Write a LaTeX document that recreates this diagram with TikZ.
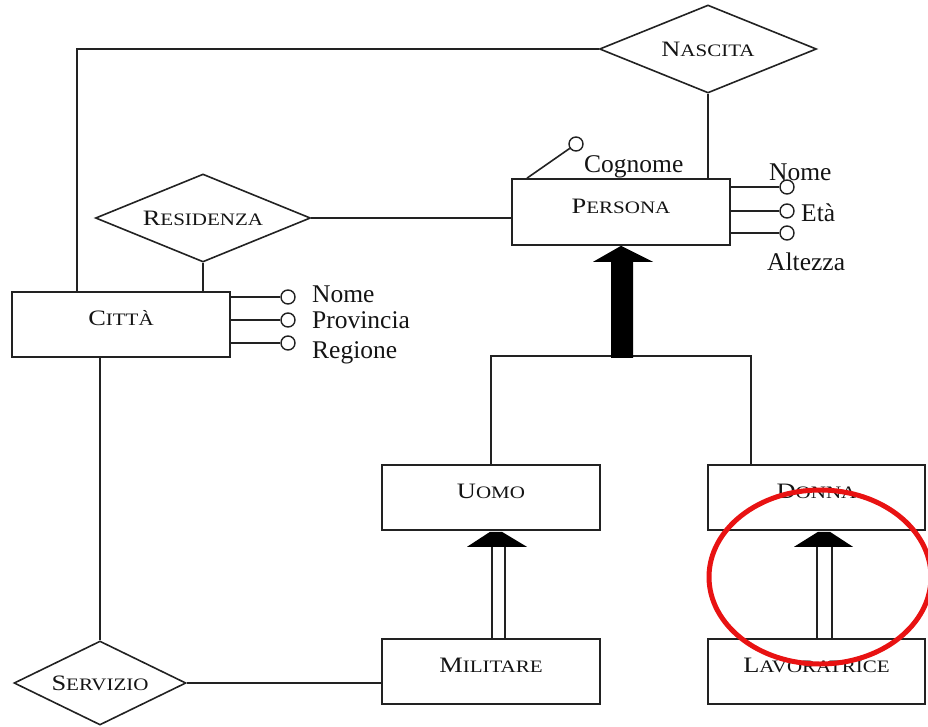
\documentclass[tikz,border=0pt]{standalone}
\usepackage{fontspec}
\setmainfont{Liberation Serif}
\newfontfamily\capsfont[FakeStretch=1.2]{Liberation Serif}
\usetikzlibrary{shapes.geometric}
% fake small capitals: large initial, smaller remaining capitals
\newcommand\fsc[2]{{\capsfont\fontsize{22}{24}\selectfont #1\fontsize{17.5}{20}\selectfont #2}}
\definecolor{ln}{HTML}{222222}
\definecolor{mark}{RGB}{232,18,18}
\begin{document}
\begin{tikzpicture}[x=1pt,y=-1pt,
  link/.style={draw=ln, line width=1.6pt},
  ent/.style={draw=ln, rectangle, line width=1.7pt, minimum width=218pt, minimum height=65pt,
    inner sep=0pt, text height=15pt, text depth=12.4pt, text=black!92},
  rel/.style={draw=ln, diamond, line width=1.6pt, inner sep=0pt},
  rlbl/.style={text height=15pt, text depth=0.4pt, inner sep=0pt, text=black!92},
  att/.style={draw=ln, circle, line width=1.4pt, minimum size=14pt, inner sep=0pt, fill=white},
  albl/.style={inner sep=0pt, font=\fontsize{25.5}{28}\selectfont, text=black!92}]
\useasboundingbox (0,0) rectangle (928,726);

% entities
\node[ent, minimum height=66pt] (persona) at (621,212) {\fsc{P}{ERSONA}};
\node[ent] (citta) at (121,324.5) {\fsc{C}{ITTÀ}};
\node[ent] (uomo) at (491,497.5) {\fsc{U}{OMO}};
\node[ent] (militare) at (491,671.5) {\fsc{M}{ILITARE}};
\node[ent, minimum width=217pt] (donna) at (816.5,497.5) {\fsc{D}{ONNA}};
\node[ent, minimum width=217pt] (lavoratrice) at (816.5,671.5) {\fsc{L}{AVORATRICE}};

% relationships
\node[rel, minimum width=217pt, minimum height=88pt,
  label={[rlbl]center:\fsc{N}{ASCITA}}] (nascita) at (708,49) {};
\node[rel, minimum width=215pt, minimum height=88pt,
  label={[rlbl]center:\fsc{R}{ESIDENZA}}] (residenza) at (203,218) {};
\node[rel, minimum width=172pt, minimum height=84pt,
  label={[rlbl]center:\fsc{S}{ERVIZIO}}] (servizio) at (100,683) {};

% relationship links
\draw[link] (nascita.west) -| ([xshift=-44pt]citta.north);
\draw[link] (nascita.south) -- (nascita.south |- persona.north);
\draw[link] (residenza.east) -- (residenza.east -| persona.west);
\draw[link] (residenza.south) -- (residenza.south |- citta.north);
\draw[link] (servizio.north) -- (servizio.north |- citta.south);
\draw[link] (servizio.east) -- (servizio.east -| militare.west);

% total generalization of PERSONA
\coordinate (hubL) at (491,356);
\coordinate (hubR) at (751,356);
\draw[link] (uomo.north) -- (hubL) -- (hubR) -- (hubR |- donna.north);
\fill[black] (persona.south) -- ++(32,16) -- ++(-20,0) -- ++(0,96) -- ++(-22,0) -- ++(0,-96) -- ++(-18,0) -- cycle;

% subset arrows
\draw[link] ([xshift=1pt]militare.north) -- ++(0,-93);
\draw[link] ([xshift=14pt]militare.north) -- ++(0,-93);
\fill[black] (uomo.south) ++(-24,16) -- ++(60,0) -- ++(-25,-15) -- ++(-12,0) -- cycle;
\draw[link] ([xshift=0.5pt]lavoratrice.north) -- ++(0,-93);
\draw[link] ([xshift=15.5pt]lavoratrice.north) -- ++(0,-93);
\fill[black] (donna.south) ++(-22.5,16) -- ++(59,0) -- ++(-23,-15) -- ++(-12,0) -- cycle;

% attributes of PERSONA
\node[att] (pcog) at (576,144) {};
\draw[link] ([xshift=-94pt]persona.north) -- (pcog);
\node[albl, anchor=base west] (lcog) at (584,172) {Cognome};
\node[att] (pnom) at (787,187) {};
\node[att] (peta) at (787,211) {};
\node[att] (palt) at (787,233) {};
\draw[link] (persona.east |- pnom) -- (pnom);
\draw[link] (persona.east |- peta) -- (peta);
\draw[link] (persona.east |- palt) -- (palt);
\node[albl, anchor=base west] (lpnom) at (769,180) {Nome};
\node[albl, anchor=base west] (lpeta) at (801,221) {Età};
\node[albl, anchor=base west] (lpalt) at (767,270) {Altezza};

% attributes of CITTÀ
\node[att] (cnom) at (288,297) {};
\node[att] (cpro) at (288,320) {};
\node[att] (creg) at (288,343) {};
\draw[link] (citta.east |- cnom) -- (cnom);
\draw[link] (citta.east |- cpro) -- (cpro);
\draw[link] (citta.east |- creg) -- (creg);
\node[albl, anchor=base west] (lcnom) at (312,302) {Nome};
\node[albl, anchor=base west] (lcpro) at (312,328) {Provincia};
\node[albl, anchor=base west] (lcreg) at (312,358) {Regione};

% highlight
\draw[draw=mark, line width=5pt] (820,577) ellipse [x radius=111, y radius=87];
\end{tikzpicture}
\end{document}
